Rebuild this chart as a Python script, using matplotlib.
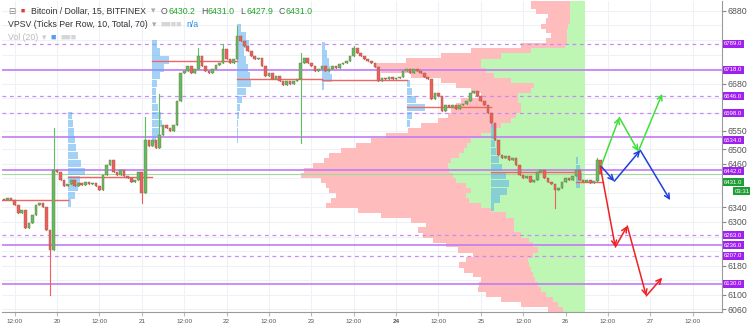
import numpy as np
import matplotlib.pyplot as plt
import matplotlib.transforms as mtransforms
from matplotlib.offsetbox import TextArea, HPacker, VPacker, AnchoredOffsetbox

plt.rcParams['font.family'] = ['Liberation Sans', 'DejaVu Sans']

# hourly closes, 19th 09:00 -> 26th 10:00
closes = [6360, 6365, 6360, 6346, 6324, 6332, 6283, 6297, 6319, 6346,
          6352, 6341, 6278, 6223, 6442, 6436, 6415, 6398, 6404, 6415,
          6398, 6406, 6401, 6409, 6404, 6406, 6398, 6387, 6428, 6456,
          6469, 6436, 6428, 6442, 6425, 6420, 6409, 6415, 6436, 6379,
          6524, 6510, 6524, 6502, 6538, 6565, 6557, 6551, 6565, 6633,
          6710, 6715, 6729, 6710, 6721, 6756, 6729, 6715, 6710, 6721,
          6732, 6737, 6775, 6748, 6737, 6748, 6811, 6797, 6784, 6770,
          6756, 6748, 6751, 6729, 6702, 6710, 6693, 6702, 6688, 6677,
          6688, 6680, 6688, 6693, 6737, 6751, 6737, 6729, 6715, 6721,
          6729, 6715, 6721, 6729, 6723, 6734, 6737, 6743, 6756, 6778,
          6764, 6756, 6748, 6743, 6737, 6726, 6688, 6696, 6693, 6699,
          6693, 6696, 6699, 6715, 6721, 6710, 6721, 6715, 6710, 6699,
          6693, 6639, 6655, 6647, 6606, 6620, 6617, 6622, 6611, 6620,
          6625, 6633, 6655, 6661, 6647, 6633, 6620, 6600, 6573, 6524,
          6483, 6475, 6480, 6469, 6477, 6456, 6428, 6420, 6425, 6409,
          6415, 6436, 6442, 6420, 6409, 6404, 6387, 6393, 6409, 6420,
          6415, 6425, 6442, 6415, 6409, 6415, 6406, 6412, 6469, 6431]
first_open = 6362
wick_high = {14: 6559, 40: 6587, 44: 6652, 55: 6778, 62: 6789, 66: 6838,
             84: 6764, 99: 6784, 168: 6477}
wick_low = {13: 6100, 39: 6352, 84: 6516, 156: 6338}

# VPSV over the visible range: row price, up volume, down volume
vp_price = [6907, 6893, 6879, 6866, 6852, 6838, 6825, 6811, 6797, 6784,
            6770, 6756, 6743, 6729, 6715, 6702, 6688, 6674, 6661, 6647,
            6633, 6619, 6606, 6592, 6578, 6565, 6551, 6537, 6524, 6510,
            6496, 6483, 6469, 6455, 6442, 6428, 6414, 6401, 6387, 6373,
            6360, 6346, 6332, 6319, 6305, 6291, 6278, 6264, 6250, 6237,
            6223, 6209, 6196, 6182, 6168, 6155, 6141, 6127, 6114, 6100,
            6086, 6073, 6059]
vp_up = [15, 15, 15, 15, 15, 17, 18, 18, 18, 20,
         55, 85, 105, 105, 100, 92, 75, 52, 55, 68,
         68, 65, 65, 70, 75, 85, 95, 105, 115, 119,
         122, 127, 135, 138, 137, 133, 130, 120, 115, 120,
         117, 105, 95, 80, 72, 72, 72, 65, 57, 53,
         48, 53, 58, 57, 55, 53, 51, 48, 45, 40,
         33, 28, 22]
vp_down = [40, 40, 35, 23, 25, 28, 22, 17, 22, 45,
           60, 60, 75, 105, 105, 83, 70, 78, 60, 37,
           57, 65, 70, 68, 73, 80, 83, 95, 100, 111,
           123, 130, 127, 135, 145, 152, 135, 140, 142, 130,
           138, 155, 133, 125, 103, 88, 96, 98, 96, 87,
           80, 60, 62, 70, 67, 60, 54, 59, 63, 60,
           52, 37, 16]

# session profiles (session start day, row prices, volumes)
sessions = [
    (20, [6592, 6570, 6548, 6527, 6505, 6483, 6461, 6439, 6417, 6395, 6373, 6352],
     [4, 5, 6, 7, 8, 10, 13, 17, 12, 10, 7, 3]),
    (21, [6789, 6767, 6745, 6723, 6702, 6680, 6658, 6636, 6614, 6592, 6570, 6548, 6527],
     [5, 8, 17, 12, 8, 5, 4, 4, 6, 9, 10, 8, 4]),
    (22, [6833, 6811, 6789, 6767, 6745, 6723, 6702, 6680, 6658, 6636, 6614, 6592, 6570, 6548, 6527],
     [4, 9, 12, 7, 9, 11, 13, 14, 9, 5, 3, 2, 1, 1, 1]),
    (23, [6784, 6762, 6740, 6718, 6696, 6674], [3, 5, 7, 8, 10, 2]),
    (24, [6680, 6658, 6636, 6614, 6592, 6570], [3, 5, 9, 18, 5, 3]),
    (25, [6559, 6538, 6516, 6494, 6472, 6450, 6428, 6406, 6384, 6363, 6341],
     [3, 4, 4, 5, 8, 11, 15, 18, 16, 9, 3]),
    (26, [6469, 6447, 6425, 6404], [2, 4, 6, 4]),
]
poc_days = [19, 20, 21, 22, 23, 24, 25, 26]
poc_prices = [6360, 6423, 6743, 6693, 6690, 6617, 6436, 6409]

solid_levels = [6718, 6534, 6442, 6236, 6130]
dashed_levels = [6789, 6646, 6598, 6263, 6207]
last_price = 6431.0

# projected paths (day, price)
green_path = ([26.42, 26.635, 26.859, 27.141], [6453, 6587, 6494, 6652])
blue_path = ([26.42, 26.576, 26.882, 27.235], [6453, 6412, 6497, 6360])
red_path = ([26.41, 26.588, 26.729, 26.953, 27.141], [6453, 6231, 6289, 6097, 6147])

fig = plt.figure(figsize=(7.5, 3.29), dpi=100)
ax = fig.add_axes([0.003, 0.052, 0.9597, 0.945])
ax.set_xlim(19.353, 27.847)
ax.set_ylim(6053, 6907)

# grid
xt = np.arange(19.5, 27.6, 0.5)
yt = [6060, 6100, 6140, 6180, 6220, 6260, 6300, 6340, 6380, 6420, 6460, 6500,
      6550, 6600, 6640, 6680, 6720, 6760, 6800, 6840, 6880]
for x in xt:
    ax.axvline(x, color='#eef2f6', lw=0.8, zorder=0)
for y in yt:
    ax.axhline(y, color='#eef2f6', lw=0.8, zorder=0)

# big volume profile anchored at the right
px_day = 1 / 85.0
right = 26.235
up = np.array(vp_up) * px_day
dn = np.array(vp_down) * px_day
ax.barh(vp_price, up, left=right - up, height=14.2, color='#bdf7b3', lw=0, zorder=1)
ax.barh(vp_price, dn, left=right - up - dn, height=14.2, color='#ffbcbc', lw=0, zorder=1)

# levels
for lv in solid_levels:
    ax.axhline(lv, color='#c27bf5', lw=1.2, zorder=2)
for lv in dashed_levels:
    ax.axhline(lv, color='#c98af7', lw=0.9, ls=(0, (3, 3)), zorder=2)
ax.axhline(last_price, color='#9fdb9a', lw=0.8, zorder=2)

# session profiles + POC
for day, pr, vol in sessions:
    w = np.array(vol) * px_day
    ax.barh(pr, w, left=day + 0.125, height=21, color='#5aaef0', alpha=0.55, lw=0, zorder=3)
for d, p in zip(poc_days, poc_prices):
    end = min(d + 1.125, 26.44)
    ax.plot([d + 0.125, end], [p, p], color='#f26363', lw=1.0, zorder=4)

# candles
n = len(closes)
t = 19.375 + np.arange(n) / 24.0
opens = [first_open] + closes[:-1]
for i in range(n):
    o, c = opens[i], closes[i]
    col = '#5cbf60' if c >= o else '#f25c5c'
    hi = wick_high.get(i, max(o, c))
    lo = wick_low.get(i, min(o, c))
    ax.plot([t[i], t[i]], [lo, hi], color=col, lw=0.8, zorder=5)
    ax.bar(t[i], max(abs(c - o), 1.5), bottom=min(o, c), width=0.75 / 24,
           color=col, edgecolor='#8a6a4a', lw=0.3, zorder=6)

# projections
for (xs, ys), col in [(green_path, '#3fe03a'), (blue_path, '#1f3de0'), (red_path, '#f02020')]:
    for k in range(len(xs) - 1):
        ax.annotate('', xy=(xs[k + 1], ys[k + 1]), xytext=(xs[k], ys[k]),
                    arrowprops=dict(arrowstyle='->', color=col, lw=1.1,
                                    mutation_scale=9, shrinkA=0, shrinkB=0), zorder=7)

# axes styling
ax.yaxis.tick_right()
ax.set_yticks([6060, 6100, 6180, 6300, 6340, 6460, 6500,
               6550, 6680, 6880])
ax.tick_params(axis='y', labelsize=6.3, labelcolor='#555555', length=3, color='#888888', pad=1)
ax.set_xticks(xt)
xl = []
for x in xt:
    xl.append('12:00' if x % 1 else str(int(x)))
ax.set_xticklabels(xl)
ax.tick_params(axis='x', labelsize=4.6, labelcolor='#555555', length=3, color='#bbbbbb', pad=2)
for lab in ax.get_xticklabels():
    if lab.get_text() == '24':
        lab.set_fontweight('bold')
for s in ['top', 'left']:
    ax.spines[s].set_visible(False)
for s in ['right', 'bottom']:
    ax.spines[s].set_color('#9a9a9a')

# price labels on the right axis (nudged apart where they would collide)
tr = mtransforms.blended_transform_factory(ax.transAxes, ax.transData)
label_nudge = {6442: -3, 6534: -9}
for lv in solid_levels + dashed_levels:
    ax.text(1.003, lv + label_nudge.get(lv, 0), '%.1f' % lv, transform=tr, fontsize=4.3,
            color='white', va='center', ha='left', zorder=10,
            bbox=dict(boxstyle='square,pad=0.25', fc='#a020f0', ec='none'))
ax.text(1.003, last_price - 22, '%.1f' % last_price, transform=tr, fontsize=4.3, color='white',
        va='center', ha='left', zorder=10,
        bbox=dict(boxstyle='square,pad=0.25', fc='#1f9e35', ec='none'))
ax.text(1.017, last_price - 47, '03:31', transform=tr, fontsize=4.3, color='white',
        va='center', ha='left', zorder=10,
        bbox=dict(boxstyle='square,pad=0.25', fc='#1f9e35', ec='none'))


def ta(s, c, size=6.3):
    return TextArea(s, textprops=dict(color=c, fontsize=size))


def pair(k, v):
    return HPacker(children=[ta(k, '#555555'), ta(v, '#22a32a')], sep=0.5, pad=0)


line1 = HPacker(children=[ta('\u229f', '#888888'), ta('\u25a0', '#e53935', 5),
                          ta('Bitcoin / Dollar, 15, BITFINEX', '#333333'), ta('\u25be', '#aaaaaa'),
                          pair('O', '6430.2'), pair('H', '6431.0'), pair('L', '6427.9'),
                          pair('C', '6431.0')], sep=4, pad=0, align='center')
line2 = HPacker(children=[ta('VPSV (Ticks Per Row, 10, Total, 70)', '#333333'), ta('\u25be', '#aaaaaa'),
                          ta('\u25a0\u25a0\u25a0\u25a0', '#d6d6d6', 6.5), ta('n/a', '#2b8de8')],
                sep=3, pad=0, align='center')
line3 = HPacker(children=[ta('Vol (20)', '#bbbbbb'), ta('\u25be', '#cccccc'),
                          ta('\u25a0', '#5b9de8', 6.5), ta('\u25a0\u25a0\u25a0', '#d6d6d6', 6.5)],
                sep=3, pad=0, align='center')
box = VPacker(children=[line1, line2, line3], sep=3, pad=0, align='left')
anch = AnchoredOffsetbox(loc='upper left', child=box, pad=0.2, borderpad=0.2, frameon=False,
                         bbox_to_anchor=(0.0, 1.0), bbox_transform=ax.transAxes)
anch.set_zorder(11)
ax.add_artist(anch)

fig.savefig('out.png', dpi=100)
